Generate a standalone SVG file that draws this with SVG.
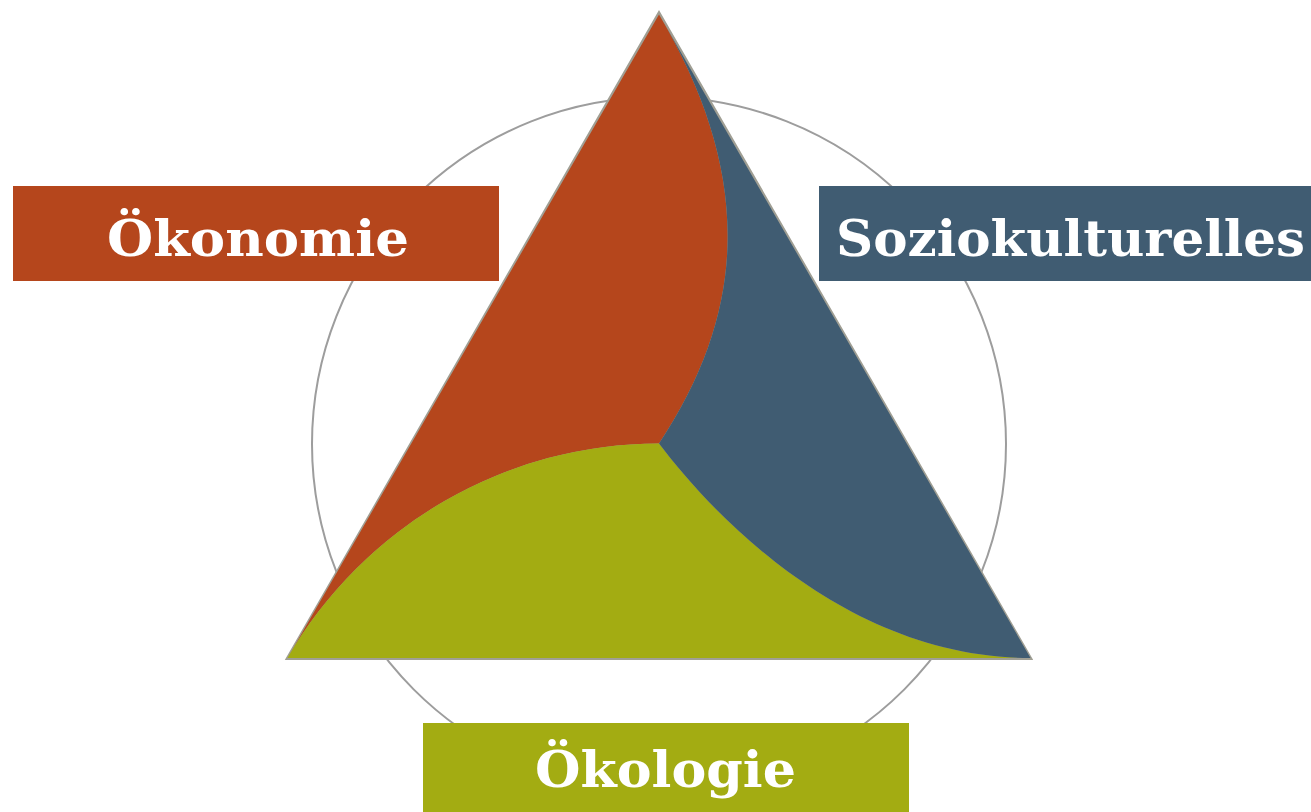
<svg xmlns="http://www.w3.org/2000/svg" width="1311" height="812" viewBox="0 0 1311 812">
  <style>
    .lbl { font-family: "DejaVu Serif", "Liberation Serif", serif; font-weight: bold; font-size: 50px; fill: #ffffff; }
    .ring { fill: none; stroke: #9d9d9d; stroke-width: 2; }
    .red { fill: #b5461c; }
    .blue { fill: #405c72; }
    .green { fill: #a3ac12; }
  </style>
  <rect x="0" y="0" width="1311" height="812" fill="#ffffff"/>
  <g id="ring">
    <circle class="ring" cx="659" cy="444" r="347"/>
  </g>
  <g id="triangle">
    <path d="M659,12 L286.5,659 L1031.5,659 Z" fill="#a09f94" stroke="#a09f94" stroke-width="2" stroke-linejoin="miter"/>
    <path id="sector-oekonomie" class="red" d="M659,14.5 L287.5,658 A429,429 0 0 1 659,443.5 C756,298 745,160 659,14.5 Z"/>
    <path id="sector-oekologie" class="green" d="M287.5,658 L1030.5,658 C853,658 720,524 659,443.5 A429,429 0 0 0 287.5,658 Z"/>
    <path id="sector-sozio" class="blue" d="M1030.5,658 L659,14.5 C745,160 756,298 659,443.5 C720,524 853,658 1030.5,658 Z"/>
  </g>
  <g id="node-oekonomie">
    <rect class="red" x="13" y="186" width="486" height="95"/>
    <text class="lbl" x="107" y="256" textLength="302" lengthAdjust="spacingAndGlyphs">Ökonomie</text>
  </g>
  <g id="node-sozio">
    <rect class="blue" x="819" y="186" width="492" height="95"/>
    <text class="lbl" x="836" y="256" textLength="469" lengthAdjust="spacingAndGlyphs">Soziokulturelles</text>
  </g>
  <g id="node-oekologie">
    <rect class="green" x="423" y="723" width="486" height="89"/>
    <text class="lbl" x="535" y="787" textLength="261" lengthAdjust="spacingAndGlyphs">Ökologie</text>
  </g>
  <g id="connectors"></g>
</svg>
